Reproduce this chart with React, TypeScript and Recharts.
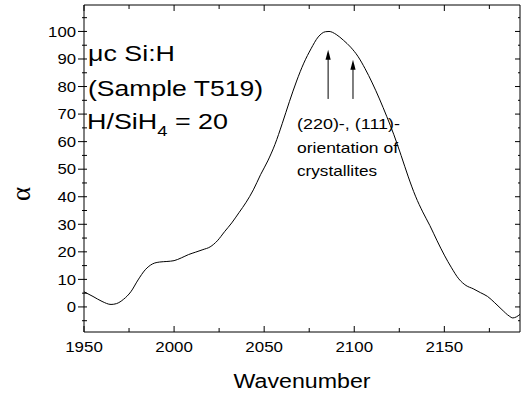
import React from 'react';
import { LineChart, Line, XAxis, YAxis, ReferenceLine, ReferenceDot, Customized } from 'recharts';

const wavenumbers = [
  1950, 1955, 1960, 1965, 1968, 1972, 1976, 1980, 1984, 1988, 1992, 1996, 2000, 2004, 2008, 2012,
  2016, 2020, 2024, 2028, 2032, 2036, 2040, 2044, 2048, 2052, 2056, 2060, 2064, 2068, 2072, 2076,
  2080, 2084, 2086, 2090, 2094, 2098, 2102, 2106, 2110, 2114, 2118, 2122, 2126, 2130, 2134, 2138,
  2142, 2146, 2150, 2154, 2158, 2162, 2166, 2170, 2174, 2178, 2182, 2186, 2188, 2190, 2192,
];
const alphaValues = [
  5.5, 3.8, 2.0, 0.9, 1.2, 2.8, 5.5, 9.8, 13.5, 15.6, 16.3, 16.5, 16.8, 17.8, 19.0, 19.9,
  20.8, 21.8, 24.0, 27.3, 30.5, 34.2, 38.0, 42.5, 48.0, 53.0, 59.0, 66.5, 74.5, 82.0, 88.5, 93.7,
  98.0, 99.9, 100, 98.9, 96.8, 94.3, 91.0, 86.5, 81.3, 75.5, 69.2, 62.5, 55.0, 47.2, 40.2, 34.5,
  29.5, 24.0, 18.8, 14.2, 10.2, 7.8, 6.6, 5.2, 3.8, 1.5, -1.0, -3.3, -4.0, -3.6, -2.7,
];

const xTicks = [1950, 1975, 2000, 2025, 2050, 2075, 2100, 2125, 2150, 2175];
const yTicks = [-5, 0, 5, 10, 15, 20, 25, 30, 35, 40, 45, 50, 55, 60, 65, 70, 75, 80, 85, 90, 95, 100, 105];
const xDomain = [1950, 2192];
const yDomain = [-9.1, 109.6];

// arrows: [wavenumber, tail alpha, tip alpha]
const arrowX = [2085.5, 2099.3];
const arrowTail = [75.5, 75.5];
const arrowTip = [93.4, 89.7];

const data = wavenumbers.map((w, i) => ({ w, a: alphaValues[i] }));

const SANS = 'Arial, "Liberation Sans", Helvetica, sans-serif';
const SERIF = '"Times New Roman", "Liberation Serif", serif';

const BottomTick = (props: any) => {
  const { x, y, payload } = props;
  const v = payload.value;
  const major = v % 50 === 0;
  const s = String(v);
  return (
    <g>
      <line x1={x} x2={x} y1={y} y2={y - (major ? 6 : 4)} stroke="#000" strokeWidth={1} />
      {major && (
        <text x={x} y={y + 20} textAnchor="middle" fontSize={15} fontFamily={SANS} fill="#000"
          textLength={s.length * 9.4} lengthAdjust="spacingAndGlyphs">{s}</text>
      )}
    </g>
  );
};

const TopTick = (props: any) => {
  const { x, y, payload } = props;
  const major = payload.value % 50 === 0;
  return <line x1={x} x2={x} y1={y} y2={y + (major ? 6 : 4)} stroke="#000" strokeWidth={1} />;
};

const LeftTick = (props: any) => {
  const { x, y, payload } = props;
  const v = payload.value;
  const major = v % 10 === 0;
  const s = String(v);
  return (
    <g>
      <line x1={major ? x - 6 : x - 2} x2={x + 3} y1={y} y2={y} stroke="#000" strokeWidth={1} />
      {major && (
        <text x={x - 8} y={y + 5.3} textAnchor="end" fontSize={15} fontFamily={SANS} fill="#000"
          textLength={s.length * 9.3} lengthAdjust="spacingAndGlyphs">{s}</text>
      )}
    </g>
  );
};

const RightTick = (props: any) => {
  const { x, y, payload } = props;
  const major = payload.value % 10 === 0;
  return <line x1={x - (major ? 5 : 2)} x2={x} y1={y} y2={y} stroke="#000" strokeWidth={1} />;
};

const ArrowHead = (props: any) => {
  const { cx, cy } = props;
  return <path d={`M${cx},${cy} L${cx - 2.6},${cy + 10} L${cx + 2.6},${cy + 10} Z`} fill="#000" />;
};

const Annotations = () => (
  <g fill="#000">
    <text x={88} y={61} fontSize={22} fontFamily={SANS} textLength={87} lengthAdjust="spacingAndGlyphs">μc Si:H</text>
    <text x={88} y={96} fontSize={22} fontFamily={SANS} textLength={175} lengthAdjust="spacingAndGlyphs">(Sample T519)</text>
    <text x={87} y={129} fontSize={22} fontFamily={SANS} textLength={141} lengthAdjust="spacingAndGlyphs">
      H/SiH<tspan fontSize={15} dy={7}>4</tspan><tspan dy={-7}> = 20</tspan>
    </text>
    <text x={297} y={129} fontSize={15} fontFamily={SANS} textLength={103} lengthAdjust="spacingAndGlyphs">(220)-, (111)-</text>
    <text x={297} y={153} fontSize={15} fontFamily={SANS} textLength={101} lengthAdjust="spacingAndGlyphs">orientation of</text>
    <text x={297} y={176} fontSize={15} fontFamily={SANS} textLength={80} lengthAdjust="spacingAndGlyphs">crystallites</text>
    <text x={302} y={388} textAnchor="middle" fontSize={20} fontFamily={SANS} textLength={137} lengthAdjust="spacingAndGlyphs">Wavenumber</text>
    <text x={0} y={0} transform="translate(30,194) rotate(-90)" textAnchor="middle" fontSize={27} fontFamily={SERIF}>α</text>
  </g>
);

export default function App() {
  return (
    <div style={{ position: 'absolute', left: 0, top: 0 }}>
      <LineChart width={521} height={393} data={data} margin={{ top: 0, right: 0, bottom: 0, left: 0 }}>
        <XAxis dataKey="w" type="number" domain={xDomain} ticks={xTicks} allowDataOverflow
          height={61} tickSize={0} tickMargin={0} tick={<BottomTick />} axisLine={{ stroke: '#000' }} interval={0} />
        <XAxis xAxisId="top" orientation="top" dataKey="w" type="number" domain={xDomain} ticks={xTicks} allowDataOverflow
          height={5} tickSize={0} tickMargin={0} tick={<TopTick />} axisLine={{ stroke: '#000' }} interval={0} />
        <YAxis type="number" domain={yDomain} ticks={yTicks} allowDataOverflow width={84}
          tickSize={0} tickMargin={0} tick={<LeftTick />} axisLine={{ stroke: '#000' }} interval={0} />
        <YAxis yAxisId="right" orientation="right" type="number" domain={yDomain} ticks={yTicks} allowDataOverflow width={1}
          tickSize={0} tickMargin={0} tick={<RightTick />} axisLine={{ stroke: '#000' }} interval={0} />
        <Line type="monotone" dataKey="a" stroke="#000" strokeWidth={1} dot={false} isAnimationActive={false} />
        {arrowX.map((ax, i) => (
          <ReferenceLine key={'l' + i} segment={[{ x: ax, y: arrowTail[i] }, { x: ax, y: arrowTip[i] - 2 }]}
            stroke="#000" strokeWidth={1} />
        ))}
        {arrowX.map((ax, i) => (
          <ReferenceDot key={'d' + i} x={ax} y={arrowTip[i]} r={3} shape={<ArrowHead />} />
        ))}
        <Customized component={Annotations} />
      </LineChart>
    </div>
  );
}
